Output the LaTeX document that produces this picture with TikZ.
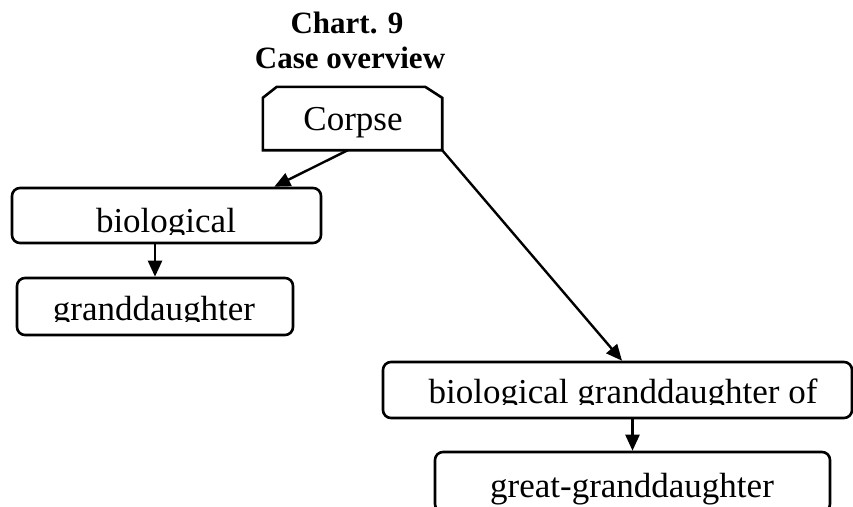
\documentclass[tikz,border=0pt]{standalone}
\usepackage{fontspec}
\setmainfont{Liberation Serif}
\usetikzlibrary{arrows.meta,calc}
\begin{document}
\begin{tikzpicture}[x=1pt,y=-1pt,
  box/.style={draw,line width=2.6pt,rounded corners=8pt,inner sep=0pt},
  lbl/.style={anchor=base,inner sep=0pt,font=\fontsize{35}{42}\selectfont},
  ttl/.style={anchor=base,inner sep=0pt,font=\bfseries\fontsize{31}{37}\selectfont},
  conn/.style={line width=2.4pt,-{Triangle[length=16pt,width=14pt]}}]
\useasboundingbox (0,0) rectangle (853,506);
% title
\node[ttl] (t1) at (347,33) {Chart. 9};
\node[ttl] (t2) at (350,68) {Case overview};
% Corpse (chamfered top corners)
\node[inner sep=0pt,minimum width=179pt,minimum height=63pt] (corpse) at (352.5,118.5) {};
\draw[line width=2.6pt,line join=miter]
  (corpse.south west) -- ($(corpse.north west)+(0,11)$) -- ($(corpse.north west)+(14,0)$)
  -- ($(corpse.north east)+(-17,0)$) -- ($(corpse.north east)+(0,11)$)
  -- (corpse.south east) -- cycle;
\node[lbl] (corpset) at (353,130) {Corpse};
% boxes
\node[box,minimum width=309pt,minimum height=55pt] (bio) at (166.5,215.5) {};
\node[box,minimum width=276pt,minimum height=57pt] (gd) at (155,306.5) {};
\node[box,minimum width=469pt,minimum height=56pt] (bgo) at (617.5,390) {};
\node[box,minimum width=395pt,minimum height=60pt] (ggd) at (632.5,482) {};
% texts, clipped near their baselines as in the reference
\begin{scope}
  \clip (0,180) rectangle (853,234);
  \node[lbl] (biot) at (166,232) {biological};
\end{scope}
\begin{scope}
  \clip (0,270) rectangle (853,321);
  \node[lbl] (gdt) at (154,320) {granddaughter};
\end{scope}
\begin{scope}
  \clip (370,355) rectangle (853,404);
  \node[lbl] (bgot) at (623,403) {biological granddaughter of};
\end{scope}
\node[lbl] (ggdt) at (632,497) {great-granddaughter};
% connectors
\draw[conn] ($(corpse.south west)+(85,0)$) -- ($(bio.north east)+(-48,0)$);
\draw[conn] (corpse.south east) -- ($(bgo.north)+(4.5,0)$);
\draw[conn] (gd.north |- bio.south) -- (gd.north);
\draw[conn] (ggd.north |- bgo.south) -- (ggd.north);
\end{tikzpicture}
\end{document}
